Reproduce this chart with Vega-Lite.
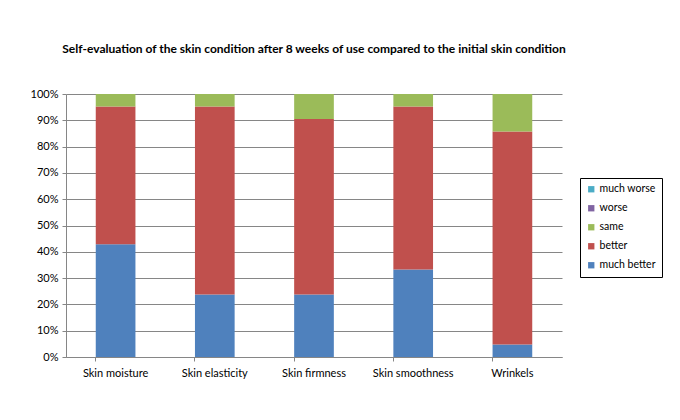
{
  "$schema": "https://vega.github.io/schema/vega-lite/v6.json",
  "description": "Self-evaluation of the skin condition after 8 weeks of use, 100% stacked bars.",
  "autosize": {"type": "none"},
  "padding": {"left": 66, "top": 94, "right": 118, "bottom": 63},
  "width": 496,
  "height": 263,
  "background": "white",
  "config": {
    "view": {"stroke": null},
    "font": "Lato",
    "axis": {
      "labelFont": "Lato",
      "labelFontSize": 11,
      "labelColor": "#000000",
      "domainColor": "#868686",
      "tickColor": "#868686",
      "gridColor": "#868686",
      "title": null
    },
    "legend": {"labelFont": "Lato", "labelFontSize": 10.5, "labelColor": "#000000"}
  },
  "title": {
    "text": "Self-evaluation of the skin condition after 8 weeks of use compared to the initial skin condition",
    "font": "Lato",
    "fontSize": 12,
    "fontWeight": "bold",
    "color": "#000000",
    "anchor": "middle",
    "offset": 32
  },
  "data": {
    "values": [
      {"attribute": "Skin moisture", "rating": "much better", "percent": 42.9},
      {"attribute": "Skin moisture", "rating": "better", "percent": 52.4},
      {"attribute": "Skin moisture", "rating": "same", "percent": 4.8},
      {"attribute": "Skin moisture", "rating": "worse", "percent": 0},
      {"attribute": "Skin moisture", "rating": "much worse", "percent": 0},
      {"attribute": "Skin elasticity", "rating": "much better", "percent": 23.8},
      {"attribute": "Skin elasticity", "rating": "better", "percent": 71.4},
      {"attribute": "Skin elasticity", "rating": "same", "percent": 4.8},
      {"attribute": "Skin elasticity", "rating": "worse", "percent": 0},
      {"attribute": "Skin elasticity", "rating": "much worse", "percent": 0},
      {"attribute": "Skin firmness", "rating": "much better", "percent": 23.8},
      {"attribute": "Skin firmness", "rating": "better", "percent": 66.7},
      {"attribute": "Skin firmness", "rating": "same", "percent": 9.5},
      {"attribute": "Skin firmness", "rating": "worse", "percent": 0},
      {"attribute": "Skin firmness", "rating": "much worse", "percent": 0},
      {"attribute": "Skin smoothness", "rating": "much better", "percent": 33.3},
      {"attribute": "Skin smoothness", "rating": "better", "percent": 61.9},
      {"attribute": "Skin smoothness", "rating": "same", "percent": 4.8},
      {"attribute": "Skin smoothness", "rating": "worse", "percent": 0},
      {"attribute": "Skin smoothness", "rating": "much worse", "percent": 0},
      {"attribute": "Wrinkels", "rating": "much better", "percent": 4.8},
      {"attribute": "Wrinkels", "rating": "better", "percent": 80.9},
      {"attribute": "Wrinkels", "rating": "same", "percent": 14.3},
      {"attribute": "Wrinkels", "rating": "worse", "percent": 0},
      {"attribute": "Wrinkels", "rating": "much worse", "percent": 0}
    ]
  },
  "transform": [
    {"calculate": "indexof(['much better', 'better', 'same', 'worse', 'much worse'], datum.rating)", "as": "stack_order"}
  ],
  "mark": {"type": "bar"},
  "encoding": {
    "x": {
      "field": "attribute",
      "type": "nominal",
      "sort": null,
      "scale": {"paddingInner": 0.6, "paddingOuter": 0.3},
      "axis": {"labelAngle": 0, "bandPosition": 0, "tickSize": 4, "labelPadding": 6}
    },
    "y": {
      "field": "percent",
      "type": "quantitative",
      "stack": "normalize",
      "scale": {"domain": [0, 1]},
      "axis": {
        "format": ".0%",
        "values": [0, 0.1, 0.2, 0.3, 0.4, 0.5, 0.6, 0.7, 0.8, 0.9, 1],
        "grid": true,
        "tickSize": 4,
        "labelPadding": 4
      }
    },
    "order": {"field": "stack_order", "type": "quantitative", "sort": "ascending"},
    "color": {
      "field": "rating",
      "type": "nominal",
      "scale": {
        "domain": ["much worse", "worse", "same", "better", "much better"],
        "range": ["#4BACC6", "#8064A2", "#9BBB59", "#C0504D", "#4F81BD"]
      },
      "legend": {
        "title": null,
        "orient": "none",
        "legendX": 514,
        "legendY": 84,
        "symbolType": "square",
        "symbolSize": 40,
        "symbolStrokeWidth": 0,
        "rowPadding": 8,
        "padding": 6,
        "labelOffset": 3,
        "strokeColor": "#000000",
        "labelLimit": 200
      }
    }
  }
}
